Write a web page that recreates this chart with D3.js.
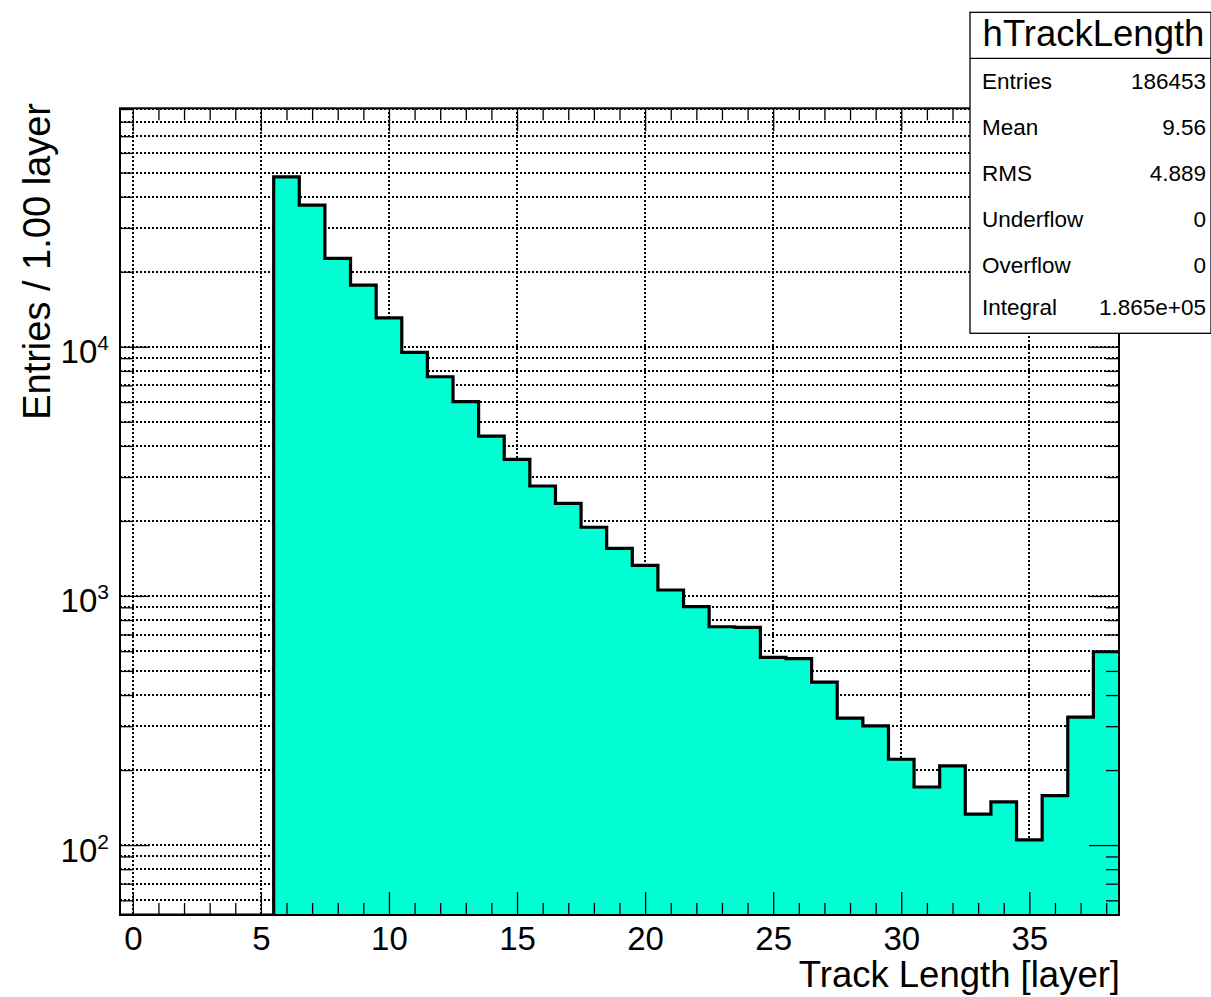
<!DOCTYPE html>
<html><head><meta charset="utf-8">
<script src="https://cdn.jsdelivr.net/npm/d3@7"></script>
<style>
body{margin:0;background:#fff}
svg{display:block}
text{font-family:"Liberation Sans",Arial,Helvetica,sans-serif;fill:#000}
</style>
</head><body>
<svg id="chart" width="1211" height="997"></svg>
<script>
// ---- data ----
const binCenters = [0,1,2,3,4,5,6,7,8,9,10,11,12,13,14,15,16,17,18,19,20,21,22,23,24,25,26,27,28,29,30,31,32,33,34,35,36,37,38];
const binCounts  = [0,0,0,0,0,0,48100,37000,22630,17690,13070,9495,7580,6020,4382,3532,2762,2352,1886,1552,1327,1056,905,752,748,567,560,451,323,301,221,171,208,133,149,105,158,326,597];
const binWidth = 1;
const xAxisRange = [-0.5, 38.5];
const yAxisRange = [52.4, 90600];
const xMajorTicks = [0,5,10,15,20,25,30,35];
const xTickLabels = ["0","5","10","15","20","25","30","35"];
const yMajorTicks = [100,1000,10000];
const yTickExponents = ["2","3","4"];
const xTitle = "Track Length [layer]";
const yTitle = "Entries / 1.00 layer";
const statsTitle = "hTrackLength";
const statsLabels = ["Entries","Mean","RMS","Underflow","Overflow","Integral"];
const statsValues = ["186453","9.56","4.889","0","0","1.865e+05"];

// ---- layout ----
const L = 120, R = 1119, T = 108.3, B = 915;
const svg = d3.select("#chart");
const x = d3.scaleLinear().domain(xAxisRange).range([L, R]);
const y = d3.scaleLog().domain(yAxisRange).range([B, T]);
const yv = c => c > 0 ? Math.max(T, Math.min(B, y(c))) : B;

// minor ticks
const xMinor = d3.range(Math.ceil(xAxisRange[0]), Math.floor(xAxisRange[1]) + 1).filter(v => xMajorTicks.indexOf(v) < 0);
const yMinor = [];
[10,100,1000,10000].forEach(d => { for (let m = 2; m <= 9; m++) { const v = m*d; if (v >= yAxisRange[0] && v <= yAxisRange[1]) yMinor.push(v); } });

svg.append("defs").append("clipPath").attr("id","plotclip")
  .append("rect").attr("x",L).attr("y",T).attr("width",R-L).attr("height",B-T);

// ---- grid ----
const grid = svg.append("g").attr("stroke","#000").attr("stroke-width",1.2)
  .attr("stroke-dasharray","1.5,2.5").attr("shape-rendering","crispEdges");
grid.selectAll("line.v").data(xMajorTicks).join("line")
  .attr("x1",d=>Math.round(x(d))).attr("x2",d=>Math.round(x(d))).attr("y1",T).attr("y2",B);
grid.selectAll("line.h").data(yMajorTicks.concat(yMinor)).join("line")
  .attr("y1",d=>Math.round(y(d))).attr("y2",d=>Math.round(y(d))).attr("x1",L).attr("x2",R);

// ---- histogram ----
const pts = binCenters.map((c,i)=>({x0:c-binWidth/2, v:binCounts[i]}));
pts.push({x0: binCenters[binCenters.length-1]+binWidth/2, v: binCounts[binCounts.length-1]});
const hg = svg.append("g").attr("clip-path","url(#plotclip)");
hg.append("path").datum(pts)
  .attr("fill","#00ffd4")
  .attr("d", d3.area().curve(d3.curveStepAfter).x(d=>x(d.x0)).y0(B).y1(d=>yv(d.v)));
hg.append("path").datum(pts)
  .attr("fill","none").attr("stroke","#000").attr("stroke-width",3.2)
  .attr("d", d3.line().curve(d3.curveStepAfter).x(d=>x(d.x0)).y(d=>yv(d.v)));

// ---- axes (ticks inward) ----
function styleAxis(g){ g.select(".domain").remove(); g.selectAll("line").attr("stroke","#000").attr("stroke-width",1.3); }
const fs = 33;
// bottom
svg.append("g").attr("transform",`translate(0,${B})`)
  .call(d3.axisBottom(x).tickValues(xMajorTicks).tickSize(-23).tickPadding(12).tickFormat((d,i)=>xTickLabels[i]))
  .call(styleAxis)
  .call(g=>g.selectAll("text").attr("font-size",fs).attr("font-family",null));
svg.append("g").attr("transform",`translate(0,${B})`)
  .call(d3.axisBottom(x).tickValues(xMinor).tickSize(-12).tickFormat(""))
  .call(styleAxis);
// top
svg.append("g").attr("transform",`translate(0,${T})`)
  .call(d3.axisTop(x).tickValues(xMajorTicks).tickSize(-23).tickFormat(""))
  .call(styleAxis);
svg.append("g").attr("transform",`translate(0,${T})`)
  .call(d3.axisTop(x).tickValues(xMinor).tickSize(-12).tickFormat(""))
  .call(styleAxis);
// left
svg.append("g").attr("transform",`translate(${L},0)`)
  .call(d3.axisLeft(y).tickValues(yMajorTicks).tickSize(-30).tickPadding(11).tickFormat(""))
  .call(styleAxis)
  .call(g=>g.selectAll(".tick text").each(function(d,i){
    const t = d3.select(this);
    t.attr("font-size",fs).attr("font-family",null).attr("dy",null).attr("y",16);
    t.append("tspan").text("10");
    t.append("tspan").attr("font-size",21).attr("dy",-13).text(yTickExponents[i]);
  }));
svg.append("g").attr("transform",`translate(${L},0)`)
  .call(d3.axisLeft(y).tickValues(yMinor).tickSize(-13).tickFormat(""))
  .call(styleAxis);
// right
svg.append("g").attr("transform",`translate(${R},0)`)
  .call(d3.axisRight(y).tickValues(yMajorTicks).tickSize(-30).tickFormat(""))
  .call(styleAxis);
svg.append("g").attr("transform",`translate(${R},0)`)
  .call(d3.axisRight(y).tickValues(yMinor).tickSize(-13).tickFormat(""))
  .call(styleAxis);

// frame
svg.append("rect").attr("x",L).attr("y",T).attr("width",R-L).attr("height",B-T)
  .attr("fill","none").attr("stroke","#000").attr("stroke-width",2);

// ---- titles ----
svg.append("text").attr("x",R+1).attr("y",987).attr("text-anchor","end")
  .attr("font-size",36.5).text(xTitle);
svg.append("text").attr("transform",`translate(50,103) rotate(-90)`).attr("text-anchor","end")
  .attr("font-size",38).text(yTitle);

// ---- stats box ----
const bx = 970, by = 12.3, bw = 241, bh = 321, divY = 58.3;
const sb = svg.append("g");
sb.append("rect").attr("x",bx).attr("y",by).attr("width",bw).attr("height",bh)
  .attr("fill","#fff").attr("stroke","#000").attr("stroke-width",1.3);
sb.append("line").attr("x1",bx).attr("x2",bx+bw).attr("y1",divY).attr("y2",divY)
  .attr("stroke","#000").attr("stroke-width",1.3);
sb.append("text").attr("x",1093.5).attr("y",46).attr("text-anchor","middle")
  .attr("font-size",36.5).text(statsTitle);
const rowScale = d3.scaleBand().domain(statsLabels).range([divY, by+bh]);
const rowOffsets = [0,0,0,0,0,-3];
sb.selectAll("text.lab").data(statsLabels).join("text").attr("class","lab")
  .attr("x",982).attr("y",(d,i)=>rowScale(d)+rowScale.bandwidth()/2+8+rowOffsets[i])
  .attr("font-size",22.5).text(d=>d);
sb.selectAll("text.val").data(statsValues).join("text").attr("class","val")
  .attr("x",1206).attr("text-anchor","end")
  .attr("y",(d,i)=>rowScale(statsLabels[i])+rowScale.bandwidth()/2+8+rowOffsets[i])
  .attr("font-size",22.5).text(d=>d);
</script>
</body></html>
